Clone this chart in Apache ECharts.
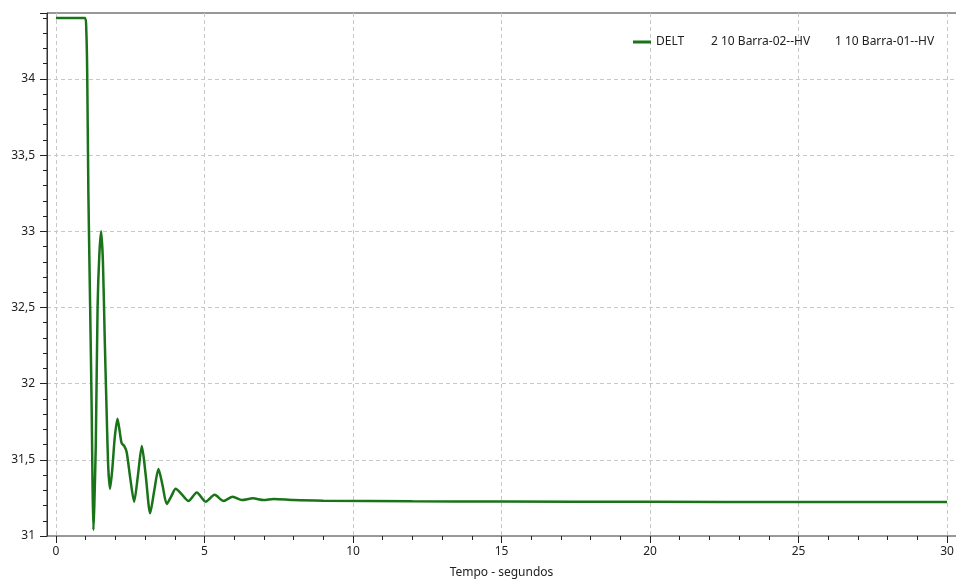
<!DOCTYPE html>
<html>
<head>
<meta charset="utf-8">
<script src="https://cdn.jsdelivr.net/npm/echarts@6/dist/echarts.min.js"></script>
<style>
html,body{margin:0;padding:0;background:#fff;}
#chart{width:956px;height:581px;}
</style>
</head>
<body>
<div id="chart"></div>
<script>
// Time (s)
const times = [0, 0.5, 0.98, 1.02, 1.05, 1.09, 1.15, 1.2, 1.23, 1.26, 1.29, 1.34, 1.4, 1.46, 1.52, 1.58, 1.64, 1.7, 1.76, 1.82,
  1.9, 1.98, 2.07, 2.15, 2.21, 2.3, 2.38, 2.5, 2.63, 2.76, 2.89, 3.02, 3.17, 3.31, 3.45, 3.59, 3.73, 3.88, 4.03, 4.25,
  4.46, 4.74, 5.04, 5.34, 5.64, 5.95, 6.26, 6.63, 6.99, 7.33, 8.0, 9.0, 12, 15, 20, 25, 30];
// DELT values
const delt = [34.40, 34.40, 34.40, 34.32, 34.05, 33.25, 32.5, 31.85, 31.35, 31.04, 31.2, 31.6, 32.5, 32.85, 33.0, 32.8, 32.3, 31.85, 31.45, 31.31,
  31.45, 31.65, 31.77, 31.68, 31.61, 31.59, 31.55, 31.38, 31.225, 31.4, 31.59, 31.4, 31.15, 31.3, 31.44, 31.33, 31.21, 31.26, 31.31, 31.27,
  31.23, 31.285, 31.225, 31.27, 31.23, 31.258, 31.236, 31.247, 31.236, 31.243, 31.236, 31.232, 31.228, 31.226, 31.224, 31.223, 31.223];
const seriesName = 'DELT';
const legendParts = ['DELT', '2 10 Barra-02--HV', '1 10 Barra-01--HV'];
const xAxisName = 'Tempo - segundos';

const yMin = 31, yMax = 34.433;
const FONT = '"Noto Sans", "Open Sans", sans-serif';

const chart = echarts.init(document.getElementById('chart'));
const option = {
  animation: false,
  backgroundColor: '#fff',
  textStyle: { fontFamily: FONT },
  grid: [
    { left: 47, right: -3, top: 13, bottom: 45, outerBoundsMode: 'none', show: true, borderColor: '#333', borderWidth: 1, backgroundColor: 'transparent' },
    { left: 56, right: 9, top: 13, bottom: 45, outerBoundsMode: 'none' }
  ],
  legend: {
    left: 628, top: 31,
    icon: 'rect', itemWidth: 18, itemHeight: 3, itemGap: 10,
    data: [seriesName],
    formatter: () => `{a|${legendParts[0]}}{b|${legendParts[1]}}{c|${legendParts[2]}}`,
    textStyle: {
      fontFamily: FONT, fontSize: 12, color: '#222',
      rich: { a: { width: 55 }, b: { width: 124 }, c: {} }
    }
  },
  xAxis: [
    { gridIndex: 0, type: 'value', min: 0, max: 1, show: false },
    {
      gridIndex: 1, type: 'value', min: 0, max: 30, interval: 5,
      name: xAxisName, nameLocation: 'middle', nameGap: 31,
      nameTextStyle: { fontFamily: FONT, fontSize: 12, color: '#222' },
      axisLine: { show: false },
      axisTick: { show: true, length: 7, lineStyle: { color: '#222' } },
      minorTick: { show: true, splitNumber: 5, length: 4, lineStyle: { color: '#222' } },
      axisLabel: { fontFamily: FONT, fontSize: 12, color: '#222', margin: 10 },
      splitLine: { show: true, lineStyle: { color: '#c8c8c8', type: [4, 3] } }
    }
  ],
  yAxis: [
    {
      gridIndex: 0, type: 'value', min: yMin, max: yMax, interval: 0.5,
      axisLine: { show: true, lineStyle: { color: '#333' } },
      axisTick: { show: true, length: 7, lineStyle: { color: '#222' } },
      minorTick: { show: true, splitNumber: 5, length: 4, lineStyle: { color: '#222' } },
      axisLabel: {
        fontFamily: FONT, fontSize: 12, color: '#222', margin: 12, showMaxLabel: false,
        formatter: v => String(v).replace('.', ',')
      },
      splitLine: { show: true, showMaxLine: false, showMinLine: false, lineStyle: { color: '#c8c8c8', type: [4, 3] } }
    },
    { gridIndex: 1, type: 'value', min: yMin, max: yMax, show: false }
  ],
  series: [{
    name: seriesName,
    type: 'line',
    xAxisIndex: 1, yAxisIndex: 1,
    data: times.map((t, i) => [t, delt[i]]),
    showSymbol: false,
    smooth: 0.25,
    lineStyle: { color: '#197319', width: 2.5 },
    itemStyle: { color: '#197319' }
  }]
};
chart.setOption(option);
</script>
</body>
</html>
